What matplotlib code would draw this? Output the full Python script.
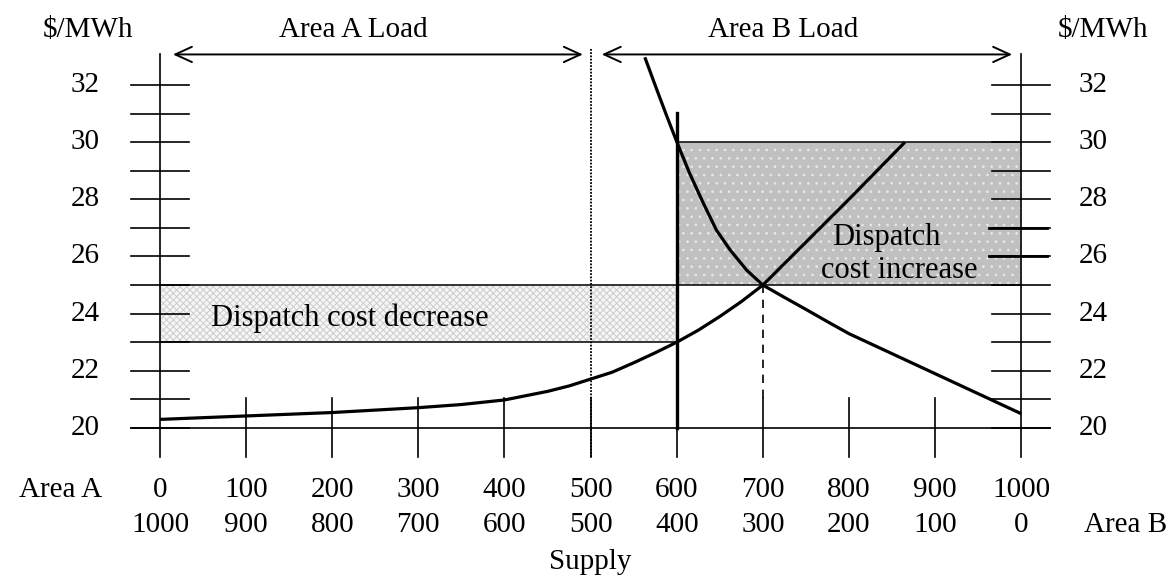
import matplotlib
matplotlib.use("Agg")
import matplotlib.pyplot as plt
from matplotlib.patches import Rectangle

plt.rcParams["font.family"] = ["Liberation Serif", "DejaVu Serif"]
plt.rcParams["hatch.linewidth"] = 0.7

# supply curves (MW, $/MWh)
area_a_x = [0, 100, 200, 300, 350, 400, 450, 475, 500, 525, 550, 575, 600,
            625, 650, 675, 700, 725, 750, 800, 865]
area_a_y = [20.3, 20.42, 20.54, 20.71, 20.82, 20.98, 21.28, 21.47, 21.71, 21.95,
            22.28, 22.63, 23.0, 23.42, 23.9, 24.42, 25.0, 25.75, 26.5, 28.0, 30.0]

area_b_x = [563, 577, 588, 600, 615, 631, 646, 662, 681, 700, 725, 750, 775,
            800, 850, 900, 950, 1000]
area_b_y = [32.97, 31.83, 30.95, 30.02, 28.91, 27.86, 26.93, 26.23, 25.53, 25.0,
            24.57, 24.15, 23.72, 23.3, 22.6, 21.9, 21.2, 20.5]

y_ticks = list(range(20, 33))
y_labels = [20, 22, 24, 26, 28, 30, 32]
x_ticks = list(range(0, 1001, 100))
area_a_labels = [str(v) for v in x_ticks]
area_b_labels = [str(1000 - v) for v in x_ticks]

transfer = 600
equilibrium = 700
price_a, price_eq, price_b = 23, 25, 30

fig = plt.figure(figsize=(11.73, 5.78), dpi=100)
ax = fig.add_axes([0, 0, 1, 1])
ax.set_xlim(-185.8, 1176.3)
ax.set_ylim(14.75, 34.975)
ax.axis("off")

FS = 21

# shaded areas
ax.add_patch(Rectangle((0, price_a), transfer, price_eq - price_a,
                       facecolor="#f6f6f6", edgecolor="none", zorder=1))
ax.add_patch(Rectangle((0, price_a), transfer, price_eq - price_a,
                       facecolor="none", edgecolor="#cdcdcd", hatch="xxxxx",
                       linewidth=0, zorder=1))
ax.add_patch(Rectangle((transfer, price_eq), 1000 - transfer, price_b - price_eq,
                       facecolor="#c0c0c0", edgecolor="none", zorder=1))
ax.add_patch(Rectangle((transfer, price_eq), 1000 - transfer, price_b - price_eq,
                       facecolor="none", edgecolor="#e8e8e8", hatch="..",
                       linewidth=0, zorder=1))
ax.plot([0, 1000], [price_eq, price_eq], color="black", lw=1.1, zorder=2)
ax.plot([0, transfer], [price_a, price_a], color="black", lw=1.1, zorder=2)
ax.plot([transfer, 1000], [price_b, price_b], color="black", lw=1.1, zorder=2)

# axes drawn by hand, like the original
tick_half = 33.7
for xa in (0, 1000):
    ax.plot([xa, xa], [19.0, 33.1], color="black", lw=1.2, zorder=3)
    for yt in y_ticks:
        ax.plot([xa - tick_half, xa + tick_half], [yt, yt], color="black", lw=1.2, zorder=3)
for yt in (26, 27):
    ax.plot([1000 - 37, 1000 + 30], [yt, yt], color="black", lw=2.0, zorder=3)
for xt in x_ticks[1:-1]:
    ax.plot([xt, xt], [19.0, 21.05], color="black", lw=1.2, zorder=3)
ax.plot([-tick_half, 1000 + tick_half], [20, 20], color="black", lw=1.2, zorder=3)

# boundary between areas, transfer limit and equilibrium
ax.plot([500, 500], [19.0, 33.3], color="black", lw=1.3, ls=(0, (1, 0.8)), zorder=3)
ax.plot([transfer, transfer], [20, 31.03], color="black", lw=2.4, zorder=4)
ax.plot([equilibrium, equilibrium], [21.05, price_eq], color="black", lw=1.2,
        ls=(0, (5, 4)), zorder=3)

# supply curves
ax.plot(area_a_x, area_a_y, color="black", lw=2.3, zorder=5, solid_capstyle="butt")
ax.plot(area_b_x, area_b_y, color="black", lw=2.3, zorder=5, solid_capstyle="butt")

# load arrows
arrow_style = dict(arrowstyle="<->,head_length=1.2,head_width=0.55",
                   color="black", lw=1.4, shrinkA=0, shrinkB=0)
ax.annotate("", xy=(491, 33.07), xytext=(15, 33.07), arrowprops=arrow_style)
ax.annotate("", xy=(989.5, 33.07), xytext=(513, 33.07), arrowprops=arrow_style)
ax.text(225, 33.93, "Area A Load", ha="center", va="center", fontsize=FS)
ax.text(723.6, 33.93, "Area B Load", ha="center", va="center", fontsize=FS)
ax.text(-84, 33.93, "$/MWh", ha="center", va="center", fontsize=FS)
ax.text(1095, 33.93, "$/MWh", ha="center", va="center", fontsize=FS)

# y labels on both sides
for yl in y_labels:
    ax.text(-87, yl, str(yl), ha="center", va="center", fontsize=FS)
    ax.text(1083.6, yl, str(yl), ha="center", va="center", fontsize=FS)

# x labels, two rows
ax.text(-116, 17.83, "Area A", ha="center", va="center", fontsize=FS)
ax.text(1121, 16.61, "Area B", ha="center", va="center", fontsize=FS)
for xt, la, lb in zip(x_ticks, area_a_labels, area_b_labels):
    ax.text(xt, 17.83, la, ha="center", va="center", fontsize=FS)
    ax.text(xt, 16.61, lb, ha="center", va="center", fontsize=FS)
ax.text(500, 15.31, "Supply", ha="center", va="center", fontsize=FS)

# area annotations
ax.text(59, 23.57, "Dispatch cost decrease", ha="left", va="baseline", fontsize=FS + 1, zorder=6)
ax.text(843, 26.4, "Dispatch", ha="center", va="baseline", fontsize=FS + 1, zorder=6)
ax.text(858, 25.25, "cost increase", ha="center", va="baseline", fontsize=FS + 1, zorder=6)

fig.savefig("out.png", dpi=100)
